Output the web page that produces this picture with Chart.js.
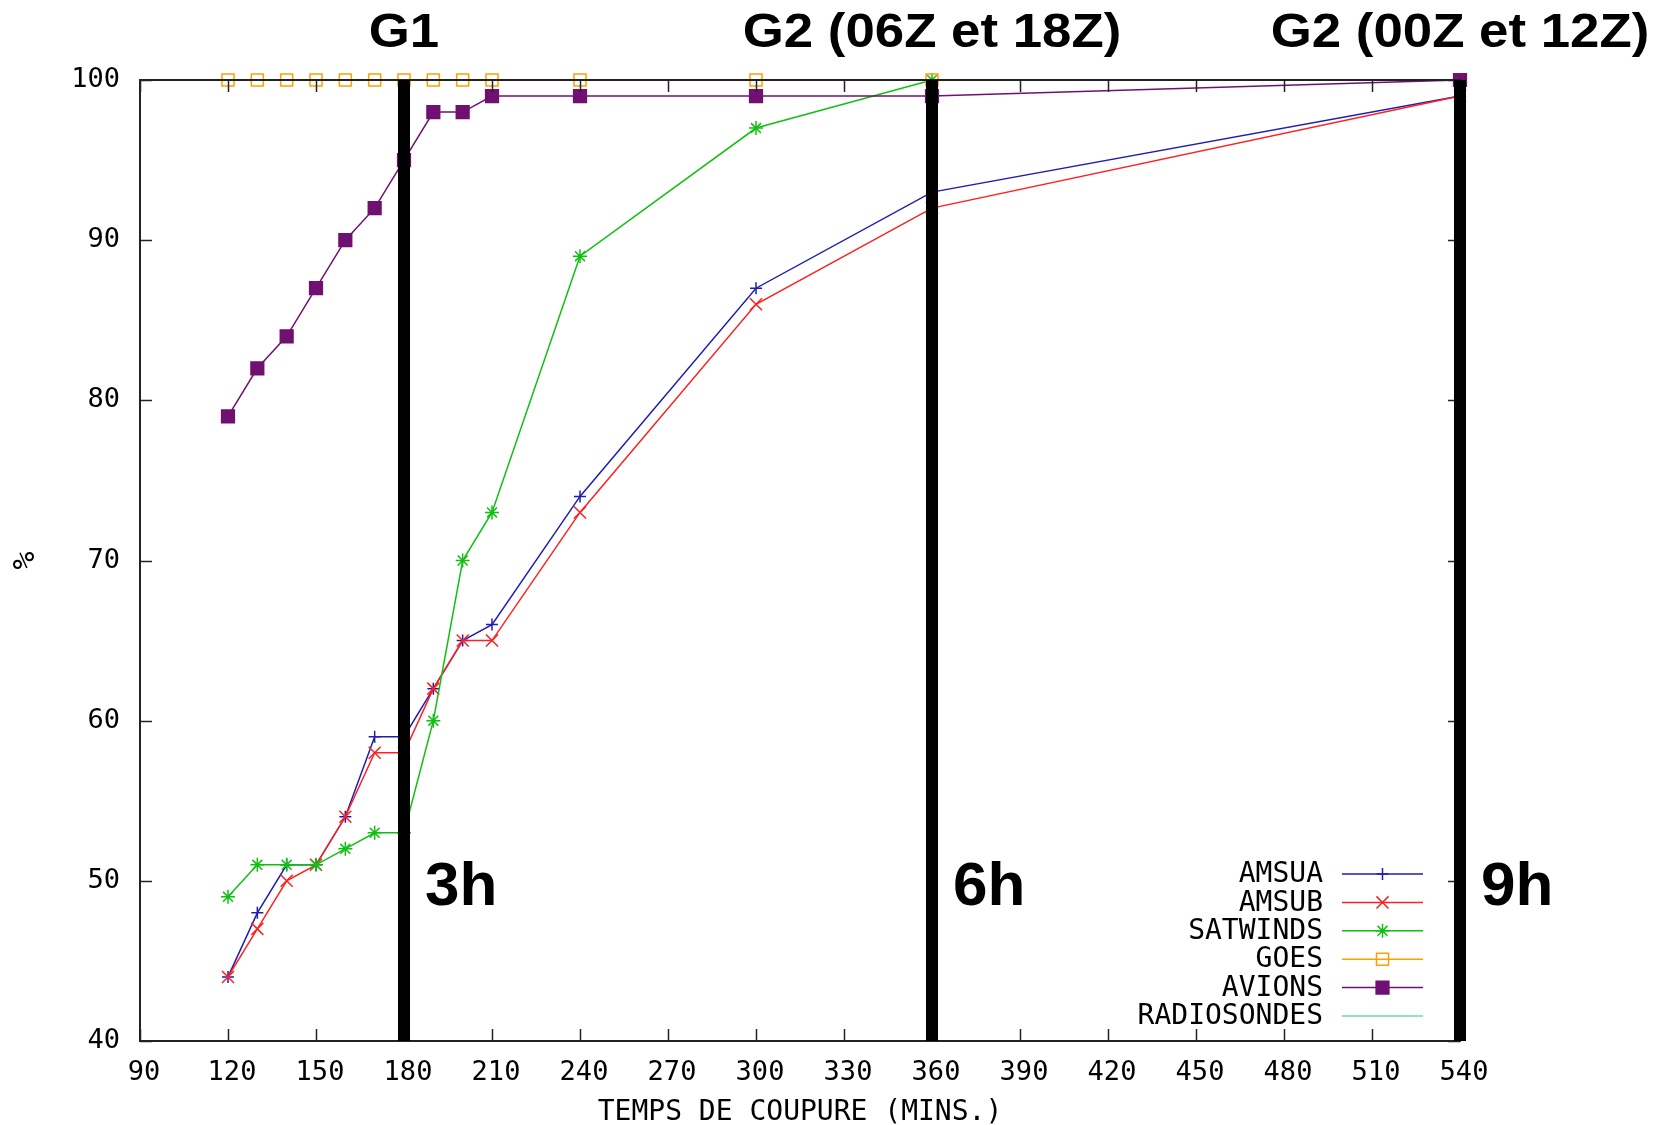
<!DOCTYPE html>
<html>
<head>
<meta charset="utf-8">
<title>Temps de coupure</title>
<script src="https://cdn.jsdelivr.net/npm/chart.js@4.4.1/dist/chart.umd.min.js"></script>
<style>
  html, body { margin: 0; padding: 0; background: #fff; }
  canvas { display: block; }
</style>
</head>
<body>
<canvas id="cutoffChart" width="1653" height="1125"></canvas>
<script>
// temps de coupure (minutes) et % d'observations disponibles
const minutes = [120, 130, 140, 150, 160, 170, 180, 190, 200, 210, 240, 300, 360, 540];
const amsua = [44, 48, 51, 51, 54, 59, 59, 62, 65, 66, 74, 87, 93, 99];
const amsub = [44, 47, 50, 51, 54, 58, 58, 62, 65, 65, 73, 86, 92, 99];
const satwinds = [49, 51, 51, 51, 52, 53, 53, 60, 70, 73, 89, 97, 100, 100];
const goes = [100, 100, 100, 100, 100, 100, 100, 100, 100, 100, 100, 100, 100, 100];
const avions = [79, 82, 84, 87, 90, 92, 95, 98, 98, 99, 99, 99, 99, 100];
const radiosondes = [];

const seriesNames = ['AMSUA', 'AMSUB', 'SATWINDS', 'GOES', 'AVIONS', 'RADIOSONDES'];

// axes
const xMin = 90, xMax = 540, xStep = 30;
const yMin = 40, yMax = 100, yStep = 10;

// cycles d'assimilation
const cutoffMinutes = [180, 360, 540];
const runLabels = ['G1', 'G2 (06Z et 18Z)', 'G2 (00Z et 12Z)'];
const delayLabels = ['3h', '6h', '9h'];

const monoFont = '"DejaVu Sans Mono", "Liberation Mono", monospace';
const boldFont = '"Liberation Sans", Arial, sans-serif';

const seriesStyles = [
    { color: '#1e1eb4', pointStyle: 'cross', radius: 6, fill: false },
    { color: '#ff2020', pointStyle: 'crossRot', radius: 8.5, fill: false },
    { color: '#10c010', pointStyle: 'star', radius: 7, fill: false },
    { color: '#ffa000', pointStyle: 'rect', radius: 8.5, fill: false },
    { color: '#701070', pointStyle: 'rect', radius: 9, fill: true },
    { color: '#70d8b0', pointStyle: false, radius: 0, fill: false }
];

function toPoints(values) {
    return values.map((v, i) => ({ x: minutes[i], y: v }));
}

const allSeries = [amsua, amsub, satwinds, goes, avions, radiosondes];

const datasets = allSeries.map((values, i) => {
    const s = seriesStyles[i];
    return {
        label: seriesNames[i],
        data: toPoints(values),
        borderColor: s.color,
        backgroundColor: s.fill ? s.color : 'rgba(0,0,0,0)',
        borderWidth: 1.5,
        pointStyle: s.pointStyle,
        pointRadius: s.radius,
        pointBorderWidth: 1.5,
        pointBorderColor: s.color,
        pointBackgroundColor: s.fill ? s.color : 'rgba(0,0,0,0)',
        tension: 0,
        clip: false,
        order: allSeries.length - i
    };
});

// cadre noir + graduations vers l'intérieur sur les quatre côtés (par-dessus les courbes)
const framePlugin = {
    id: 'frame',
    afterDatasetsDraw(chart) {
        const { ctx, chartArea: a, scales } = chart;
        ctx.save();
        ctx.strokeStyle = '#222';
        ctx.lineWidth = 2;
        ctx.strokeRect(a.left, a.top, a.right - a.left, a.bottom - a.top);
        ctx.lineWidth = 1.5;
        ctx.beginPath();
        scales.x.ticks.forEach(t => {
            const px = Math.round(scales.x.getPixelForValue(t.value)) + 0.5;
            ctx.moveTo(px, a.bottom); ctx.lineTo(px, a.bottom - 12);
            ctx.moveTo(px, a.top); ctx.lineTo(px, a.top + 12);
        });
        scales.y.ticks.forEach(t => {
            const py = Math.round(scales.y.getPixelForValue(t.value)) + 0.5;
            ctx.moveTo(a.left, py); ctx.lineTo(a.left + 12, py);
            ctx.moveTo(a.right, py); ctx.lineTo(a.right - 12, py);
        });
        ctx.stroke();
        ctx.restore();
    }
};

// barres verticales des heures de coupure et leurs étiquettes
const cutoffPlugin = {
    id: 'cutoffs',
    afterDatasetsDraw(chart) {
        const { ctx, chartArea: a, scales } = chart;
        ctx.save();
        cutoffMinutes.forEach((m, i) => {
            const px = scales.x.getPixelForValue(m);
            ctx.fillStyle = '#000';
            ctx.fillRect(px - 6, a.top, 12, a.bottom - a.top);

            ctx.font = 'bold 62px ' + boldFont;
            ctx.textAlign = 'left';
            ctx.textBaseline = 'alphabetic';
            ctx.fillText(delayLabels[i], px + 21, a.bottom - 136);

            ctx.save();
            ctx.translate(px, a.top - 33);
            ctx.scale(1.1, 1);
            ctx.font = 'bold 48px ' + boldFont;
            ctx.textAlign = 'center';
            ctx.fillText(runLabels[i], 0, 0);
            ctx.restore();
        });
        ctx.restore();
    }
};

// légende à l'intérieur du graphe, texte aligné à droite
const legendPlugin = {
    id: 'innerLegend',
    afterDraw(chart) {
        const { ctx, chartArea: a } = chart;
        const textRight = a.right - 137;
        const lineStart = a.right - 118;
        const lineEnd = a.right - 37;
        const markX = (lineStart + lineEnd) / 2;
        ctx.save();
        chart.data.datasets.forEach((ds, i) => {
            const y = a.bottom - 167 + i * 28.4;
            ctx.font = '28px ' + monoFont;
            ctx.textAlign = 'right';
            ctx.textBaseline = 'middle';
            ctx.fillStyle = '#000';
            ctx.fillText(ds.label, textRight, y + 1);

            ctx.strokeStyle = ds.borderColor;
            ctx.lineWidth = 1.5;
            ctx.beginPath();
            ctx.moveTo(lineStart, y);
            ctx.lineTo(lineEnd, y);
            ctx.stroke();

            if (ds.pointStyle) {
                ctx.fillStyle = ds.pointBackgroundColor;
                ctx.strokeStyle = ds.pointBorderColor;
                Chart.helpers.drawPoint(ctx, {
                    pointStyle: ds.pointStyle,
                    radius: ds.pointRadius,
                    rotation: 0,
                    borderWidth: 1.5
                }, markX, y);
            }
        });
        ctx.restore();
    }
};

new Chart(document.getElementById('cutoffChart'), {
    type: 'line',
    data: { datasets: datasets },
    options: {
        responsive: false,
        animation: false,
        events: [],
        layout: { padding: { top: 80, right: 193, left: 0, bottom: 0 } },
        plugins: {
            legend: { display: false },
            tooltip: { enabled: false }
        },
        scales: {
            x: {
                type: 'linear',
                min: xMin,
                max: xMax,
                grid: { display: false, drawTicks: false },
                border: { display: false },
                ticks: {
                    stepSize: xStep,
                    color: '#000',
                    padding: 16,
                    labelOffset: 4,
                    maxRotation: 0,
                    font: { family: monoFont, size: 27 }
                },
                title: {
                    display: true,
                    text: 'TEMPS DE COUPURE (MINS.)',
                    color: '#000',
                    padding: { top: 0, bottom: -5 },
                    font: { family: monoFont, size: 28 }
                },
                afterFit(scale) { scale.height = 84; }
            },
            y: {
                min: yMin,
                max: yMax,
                grid: { display: false, drawTicks: false },
                border: { display: false },
                ticks: {
                    stepSize: yStep,
                    color: '#000',
                    padding: 20,
                    font: { family: monoFont, size: 27 }
                },
                title: {
                    display: true,
                    text: '%',
                    color: '#000',
                    padding: { top: 8, bottom: 0 },
                    font: { family: monoFont, size: 30 }
                },
                afterFit(scale) { scale.width = 140; }
            }
        }
    },
    plugins: [framePlugin, cutoffPlugin, legendPlugin]
});
</script>
</body>
</html>
